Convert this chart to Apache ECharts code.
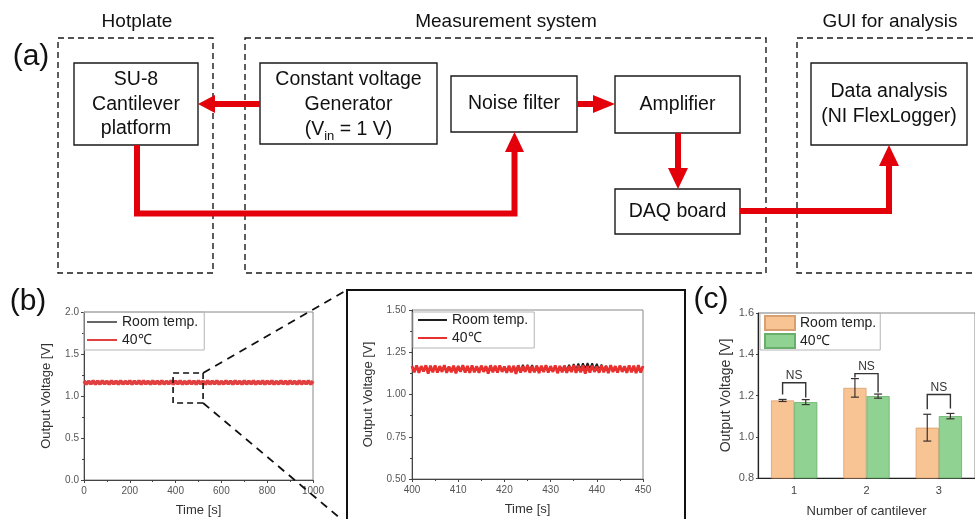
<!DOCTYPE html>
<html><head><meta charset="utf-8">
<script src="https://cdn.jsdelivr.net/npm/echarts@6/dist/echarts.min.js"></script>
<style>html,body{margin:0;padding:0;background:#fff}#c{width:975px;height:519px}</style>
</head><body><div id="c"></div>
<script>
const FONT = '"Liberation Sans", Arial, Helvetica, sans-serif';
const RED = '#e3000b';

// ---------- (b) overview: 0-1000 s, sampled every 10 s ----------
const timeStartB = 0, timeStepB = 10;
const roomB = [
1.17,1.15,1.17,1.15,1.17,1.15,1.17,1.15,1.17,1.15,
1.17,1.15,1.17,1.15,1.17,1.15,1.17,1.15,1.17,1.15,
1.17,1.15,1.17,1.15,1.17,1.15,1.17,1.15,1.17,1.15,
1.16,1.15,1.17,1.15,1.17,1.15,1.17,1.15,1.17,1.15,
1.17,1.15,1.17,1.15,1.17,1.15,1.17,1.15,1.17,1.15,
1.17,1.15,1.17,1.15,1.17,1.15,1.17,1.15,1.17,1.15,
1.17,1.15,1.17,1.15,1.17,1.15,1.17,1.15,1.17,1.15,
1.17,1.15,1.17,1.15,1.17,1.15,1.17,1.15,1.17,1.15,
1.17,1.15,1.17,1.15,1.17,1.15,1.17,1.15,1.17,1.15,
1.17,1.15,1.17,1.15,1.17,1.15,1.17,1.15,1.17,1.15,
1.17];
const hotB = [
1.18,1.14,1.175,1.145,1.18,1.14,1.178,1.142,1.18,1.145,
1.175,1.14,1.18,1.145,1.178,1.14,1.18,1.142,1.175,1.145,
1.18,1.14,1.178,1.145,1.18,1.14,1.18,1.145,1.175,1.14,
1.18,1.145,1.178,1.14,1.18,1.142,1.175,1.145,1.18,1.14,
1.178,1.145,1.18,1.14,1.175,1.142,1.18,1.145,1.178,1.14,
1.18,1.145,1.175,1.14,1.18,1.142,1.178,1.145,1.18,1.14,
1.175,1.142,1.18,1.145,1.178,1.14,1.18,1.145,1.175,1.14,
1.18,1.142,1.178,1.145,1.18,1.14,1.175,1.145,1.18,1.14,
1.178,1.145,1.18,1.14,1.175,1.142,1.18,1.145,1.178,1.14,
1.18,1.145,1.175,1.14,1.18,1.142,1.178,1.145,1.18,1.14,
1.178];
// zoom window drawn on (b): [time from, time to], [voltage from, voltage to]
const zoomWindowTime = [389, 520];
const zoomWindowVolt = [0.917, 1.274];

// ---------- inset: 400-450 s, sampled every 0.5 s ----------
const timeStartI = 400, timeStepI = 0.5;
const roomI = [
1.165,1.14,1.163,1.142,1.166,1.139,1.164,1.141,1.165,1.14,
1.163,1.142,1.166,1.14,1.164,1.139,1.165,1.141,1.167,1.14,
1.168,1.142,1.166,1.14,1.164,1.141,1.165,1.139,1.163,1.142,
1.165,1.14,1.164,1.141,1.166,1.139,1.165,1.142,1.163,1.14,
1.165,1.141,1.166,1.14,1.168,1.142,1.172,1.142,1.175,1.14,
1.176,1.143,1.174,1.14,1.17,1.141,1.166,1.14,1.164,1.142,
1.165,1.14,1.163,1.141,1.166,1.142,1.17,1.144,1.176,1.145,
1.18,1.148,1.183,1.15,1.185,1.152,1.186,1.15,1.185,1.148,
1.182,1.145,1.177,1.142,1.17,1.14,1.165,1.141,1.164,1.14,
1.166,1.142,1.165,1.14,1.163,1.141,1.165,1.139,1.164,1.142,
1.165];
const hotI = [
1.168,1.132,1.172,1.128,1.168,1.136,1.173,1.124,1.17,1.132,
1.172,1.13,1.168,1.134,1.174,1.128,1.166,1.132,1.171,1.125,
1.168,1.135,1.173,1.13,1.169,1.128,1.172,1.132,1.167,1.129,
1.171,1.134,1.168,1.124,1.173,1.132,1.17,1.13,1.172,1.134,
1.166,1.128,1.171,1.132,1.169,1.122,1.173,1.13,1.168,1.134,
1.172,1.129,1.167,1.132,1.171,1.127,1.17,1.133,1.173,1.13,
1.168,1.134,1.172,1.126,1.169,1.132,1.171,1.129,1.167,1.133,
1.173,1.128,1.17,1.132,1.172,1.124,1.168,1.13,1.171,1.134,
1.166,1.129,1.172,1.132,1.169,1.127,1.173,1.133,1.168,1.13,
1.171,1.134,1.167,1.128,1.172,1.132,1.17,1.126,1.173,1.13,
1.168];

// ---------- (c) bars ----------
const cantilevers = ['1', '2', '3'];
const roomC = [1.176, 1.237, 1.044];
const roomCErr = [0.005, 0.045, 0.065];
const hotC = [1.168, 1.197, 1.100];
const hotCErr = [0.012, 0.010, 0.013];
// "NS" brackets: bracket top, left leg end, right leg end
const nsTop = [1.262, 1.306, 1.205];
const nsLeftEnd = [1.205, 1.287, 1.133];
const nsRightEnd = [1.190, 1.214, 1.137];

const legendNames = {b_room:'Room temp.', b_hot:'40℃', i_room:'Room temp.', i_hot:'40℃', c_room:'Room temp.', c_hot:'40℃'};

function pairs(start, step, vals){ return vals.map((v, i) => [start + step * i, v]); }

// ---------- diagram (a) ----------
const txt = (x, y, text, size, extra) => Object.assign({
  type:'text', x:x, y:y, silent:true,
  style: Object.assign({text:text, fontSize:size, fontFamily:FONT, fill:'#111',
    align:'center', verticalAlign:'middle', textAlign:'center', textVerticalAlign:'middle'}, extra || {})
});
const rect = (x, y, w, h, dashed) => ({
  type:'rect', silent:true, shape:{x:x, y:y, width:w, height:h},
  style:{fill:'transparent', stroke:'#1a1a1a', lineWidth:1.4, lineDash: dashed ? [6,4] : null}
});
const shaft = pts => ({type:'polyline', silent:true, shape:{points:pts},
  style:{stroke:RED, lineWidth:6, fill:null, lineJoin:'miter', lineCap:'butt'}});
const head = pts => ({type:'polygon', silent:true, shape:{points:pts}, style:{fill:RED, stroke:null}});

const diagram = [
  txt(31, 57, '(a)', 30),
  txt(137, 22, 'Hotplate', 19),
  txt(506, 22, 'Measurement system', 19),
  txt(890, 22, 'GUI for analysis', 19),
  rect(58, 38, 155, 235, true),
  rect(245, 38, 521, 235, true),
  rect(797, 38, 220, 235, true),
  rect(74, 63, 124, 82),
  rect(260, 63, 177, 81),
  rect(451, 76, 126, 56),
  rect(615, 76, 125, 57),
  rect(615, 189, 125, 45),
  rect(811, 63, 156, 82),
  txt(136, 104.5, 'SU-8\nCantilever\nplatform', 19.5, {lineHeight:24.5}),
  txt(348.5, 105, 'Constant voltage\nGenerator\n(V{sub|in} = 1 V)', 19.5, {lineHeight:25,
     rich:{sub:{fontSize:13, fontFamily:FONT, fill:'#111', verticalAlign:'bottom', textVerticalAlign:'bottom', lineHeight:25}}}),
  txt(514, 104, 'Noise filter', 19.5),
  txt(677.5, 105, 'Amplifier', 19.5),
  txt(677.5, 211.5, 'DAQ board', 19.5),
  txt(889, 104.5, 'Data analysis\n(NI FlexLogger)', 19.5, {lineHeight:25}),
  shaft([[260,104],[213,104]]), head([[215,95],[215,113],[198,104]]),
  shaft([[577,104],[595,104]]), head([[593,95],[593,113],[615,104]]),
  shaft([[678,133],[678,170]]), head([[668,168],[688,168],[678,189]]),
  shaft([[137,145],[137,213.5],[514.5,213.5],[514.5,150]]), head([[505,152],[524,152],[514.5,132]]),
  shaft([[740,211],[889,211],[889,164]]), head([[879,166],[899,166],[889,145]]),
  // panel labels and inset frame
  txt(28, 302, '(b)', 30),
  txt(711, 300, '(c)', 30),
  {type:'rect', silent:true, shape:{x:347, y:290, width:338, height:240}, style:{fill:'transparent', stroke:'#111', lineWidth:2}}
];

const axisLabelStyle = {fontSize:10, fontFamily:FONT, color:'#555'};
const nameStyle = {fontSize:13, fontFamily:FONT, color:'#333'};
const lineAxis = {lineStyle:{color:'#444', width:1}};
const plain = v => String(v);

function errRender(sign){
  return function(params, api){
    const c = api.value(0);
    const lo = api.coord([c, api.value(1)]);
    const hi = api.coord([c, api.value(2)]);
    const band = api.size([1, 0])[0];
    const x = lo[0] + sign * band * 0.16;
    const cap = 4;
    const st = {stroke:'#3a3030', lineWidth:1.2};
    return {type:'group', children:[
      {type:'line', shape:{x1:x, y1:lo[1], x2:x, y2:hi[1]}, style:st},
      {type:'line', shape:{x1:x-cap, y1:lo[1], x2:x+cap, y2:lo[1]}, style:st},
      {type:'line', shape:{x1:x-cap, y1:hi[1], x2:x+cap, y2:hi[1]}, style:st}
    ]};
  };
}
function nsRender(params, api){
  const c = api.value(0);
  const top = api.coord([c, api.value(1)]);
  const l = api.coord([c, api.value(2)]);
  const r = api.coord([c, api.value(3)]);
  const band = api.size([1, 0])[0];
  const xl = top[0] - band * 0.16, xr = top[0] + band * 0.16;
  return {type:'group', children:[
    {type:'polyline', shape:{points:[[xl, l[1]], [xl, top[1]], [xr, top[1]], [xr, r[1]]]},
     style:{stroke:'#333', lineWidth:1.4, fill:null}},
    {type:'text', style:{text:'NS', x:top[0], y:top[1] - 1, fontSize:12, fontFamily:FONT, fill:'#333',
      align:'center', verticalAlign:'bottom', textAlign:'center', textVerticalAlign:'bottom'}}
  ]};
}
function windowRender(params, api){
  const p0 = api.coord([api.value(0), api.value(1)]);
  const p1 = api.coord([api.value(2), api.value(3)]);
  return {type:'rect', shape:{x:p0[0], y:p1[1], width:p1[0]-p0[0], height:p0[1]-p1[1]},
    style:{fill:'transparent', stroke:'#111', lineWidth:1.6, lineDash:[6,4]}};
}

const legendBase = {orient:'vertical', icon:'rect', itemWidth:30, itemHeight:2, itemGap:2,
  borderColor:'#b5b5b5', borderWidth:1, borderRadius:0,
  textStyle:{fontSize:14, fontFamily:FONT, color:'#222', lineHeight:16},
  formatter: n => legendNames[n], selectedMode:false};

const option = {
  animation:false,
  backgroundColor:'#fff',
  graphic: {elements: diagram},
  grid:[
    {left:84, top:312, width:229, height:168, show:true, borderColor:'#888', borderWidth:1},
    {left:412, top:310, width:231, height:169, show:true, borderColor:'#888', borderWidth:1},
    {left:758, top:313, width:218, height:166, show:true, borderColor:'#888', borderWidth:1}
  ],
  legend:[
    Object.assign({}, legendBase, {data:['b_room','b_hot'], left:84, top:312, padding:[2,6,2,3]}),
    Object.assign({}, legendBase, {data:['i_room','i_hot'], left:413, top:312, itemWidth:29, padding:[0,6,2,5]}),
    Object.assign({}, legendBase, {data:['c_room','c_hot'], left:760, top:313, itemHeight:14, itemWidth:30, padding:[2,4,1,4]})
  ],
  xAxis:[
    {type:'value', gridIndex:0, min:0, max:1000, interval:200, axisLine:lineAxis,
     axisTick:{inside:false, length:3, lineStyle:{color:'#444'}}, minorTick:{show:true, splitNumber:2, length:2},
     splitLine:{show:false}, axisLabel:Object.assign({margin:6, formatter:plain}, axisLabelStyle),
     name:'Time [s]', nameLocation:'middle', nameGap:24, nameTextStyle:nameStyle},
    {type:'value', gridIndex:1, min:400, max:450, interval:10, axisLine:lineAxis,
     axisTick:{inside:false, length:3, lineStyle:{color:'#444'}}, minorTick:{show:true, splitNumber:2, length:2},
     splitLine:{show:false}, axisLabel:Object.assign({margin:6, formatter:plain}, axisLabelStyle),
     name:'Time [s]', nameLocation:'middle', nameGap:24, nameTextStyle:nameStyle},
    {type:'category', gridIndex:2, data:cantilevers, axisLine:{lineStyle:{color:'#222', width:1.2}},
     axisTick:{alignWithLabel:true, length:3, lineStyle:{color:'#444'}},
     axisLabel:{margin:7, fontSize:11, fontFamily:FONT, color:'#444'},
     name:'Number of cantilever', nameLocation:'middle', nameGap:27, nameTextStyle:{fontSize:13, fontFamily:FONT, color:'#333'}}
  ],
  yAxis:[
    {type:'value', gridIndex:0, min:0, max:2, interval:0.5, axisLine:Object.assign({show:true}, lineAxis),
     axisTick:{show:true, inside:false, length:3, lineStyle:{color:'#444'}}, minorTick:{show:true, splitNumber:2, length:2},
     splitLine:{show:false}, axisLabel:Object.assign({margin:5, formatter:v => v.toFixed(1)}, axisLabelStyle),
     name:'Output Voltage [V]', nameLocation:'middle', nameGap:31, nameTextStyle:nameStyle},
    {type:'value', gridIndex:1, min:0.5, max:1.5, interval:0.25, axisLine:Object.assign({show:true}, lineAxis),
     axisTick:{show:true, inside:false, length:3, lineStyle:{color:'#444'}}, minorTick:{show:true, splitNumber:2, length:2},
     splitLine:{show:false}, axisLabel:Object.assign({margin:6, formatter:v => v.toFixed(2)}, axisLabelStyle),
     name:'Output Voltage [V]', nameLocation:'middle', nameGap:37, nameTextStyle:nameStyle},
    {type:'value', gridIndex:2, min:0.8, max:1.6, interval:0.2, axisLine:{show:true, lineStyle:{color:'#222', width:1.2}},
     axisTick:{show:true, inside:false, length:2, lineStyle:{color:'#444'}},
     splitLine:{show:false}, axisLabel:{margin:4, fontSize:11, fontFamily:FONT, color:'#555', formatter:v => v.toFixed(1)},
     name:'Output Voltage [V]', nameLocation:'middle', nameGap:25, nameTextStyle:{fontSize:14, fontFamily:FONT, color:'#333'}}
  ],
  series:[
    {name:'b_room', type:'line', xAxisIndex:0, yAxisIndex:0, showSymbol:false, symbol:'none',
     data:pairs(timeStartB, timeStepB, roomB), lineStyle:{color:'#666', width:3}, itemStyle:{color:'#666'}, z:2},
    {name:'b_hot', type:'line', xAxisIndex:0, yAxisIndex:0, showSymbol:false, symbol:'none',
     data:pairs(timeStartB, timeStepB, hotB), lineStyle:{color:'#e24040', width:3.6}, itemStyle:{color:'#e24040'}, z:3},
    {name:'zoomWindow', type:'custom', xAxisIndex:0, yAxisIndex:0, renderItem:windowRender, z:10, silent:true,
     encode:{x:[0,2], y:[1,3]},
     data:[[zoomWindowTime[0], zoomWindowVolt[0], zoomWindowTime[1], zoomWindowVolt[1]]]},
    {name:'i_room', type:'line', xAxisIndex:1, yAxisIndex:1, showSymbol:false, symbol:'none',
     data:pairs(timeStartI, timeStepI, roomI), lineStyle:{color:'#1e1e1e', width:1.8}, itemStyle:{color:'#1e1e1e'}, z:2},
    {name:'i_hot', type:'line', xAxisIndex:1, yAxisIndex:1, showSymbol:false, symbol:'none',
     data:pairs(timeStartI, timeStepI, hotI), lineStyle:{color:'#e8302e', width:2.8}, itemStyle:{color:'#e8302e'}, z:3},
    {name:'c_room', type:'bar', xAxisIndex:2, yAxisIndex:2, data:roomC, barWidth:'32%', barGap:'0%',
     itemStyle:{color:'#f9c494', borderColor:'#d8a070', borderWidth:0.8}},
    {name:'c_hot', type:'bar', xAxisIndex:2, yAxisIndex:2, data:hotC, barWidth:'32%', barGap:'0%',
     itemStyle:{color:'#90d291', borderColor:'#6aae6b', borderWidth:0.8}},
    {name:'c_room_err', type:'custom', xAxisIndex:2, yAxisIndex:2, renderItem:errRender(-1), z:5, silent:true,
     encode:{x:0, y:[1,2]}, data:roomC.map((v, i) => [i, v - roomCErr[i], v + roomCErr[i]])},
    {name:'c_hot_err', type:'custom', xAxisIndex:2, yAxisIndex:2, renderItem:errRender(1), z:5, silent:true,
     encode:{x:0, y:[1,2]}, data:hotC.map((v, i) => [i, v - hotCErr[i], v + hotCErr[i]])},
    {name:'c_ns', type:'custom', xAxisIndex:2, yAxisIndex:2, renderItem:nsRender, z:5, silent:true,
     encode:{x:0, y:[1,2,3]}, data:nsTop.map((v, i) => [i, v, nsLeftEnd[i], nsRightEnd[i]])}
  ]
};

const chart = echarts.init(document.getElementById('c'), null, {renderer:'canvas'});
chart.setOption(option);

// dashed connectors from the zoom window (b) to the inset frame corners
const pTR = chart.convertToPixel({gridIndex:0}, [zoomWindowTime[1], zoomWindowVolt[1]]);
const pBR = chart.convertToPixel({gridIndex:0}, [zoomWindowTime[1], zoomWindowVolt[0]]);
const connStyle = {stroke:'#111', lineWidth:1.8, lineDash:[8,6]};
const connectors = [
  {type:'line', silent:true, z:20, shape:{x1:pTR[0], y1:pTR[1], x2:347, y2:290}, style:connStyle},
  {type:'line', silent:true, z:20, shape:{x1:pBR[0], y1:pBR[1], x2:347, y2:524}, style:connStyle}
];
chart.setOption({graphic:{elements: diagram.concat(connectors)}});
</script>
</body></html>
